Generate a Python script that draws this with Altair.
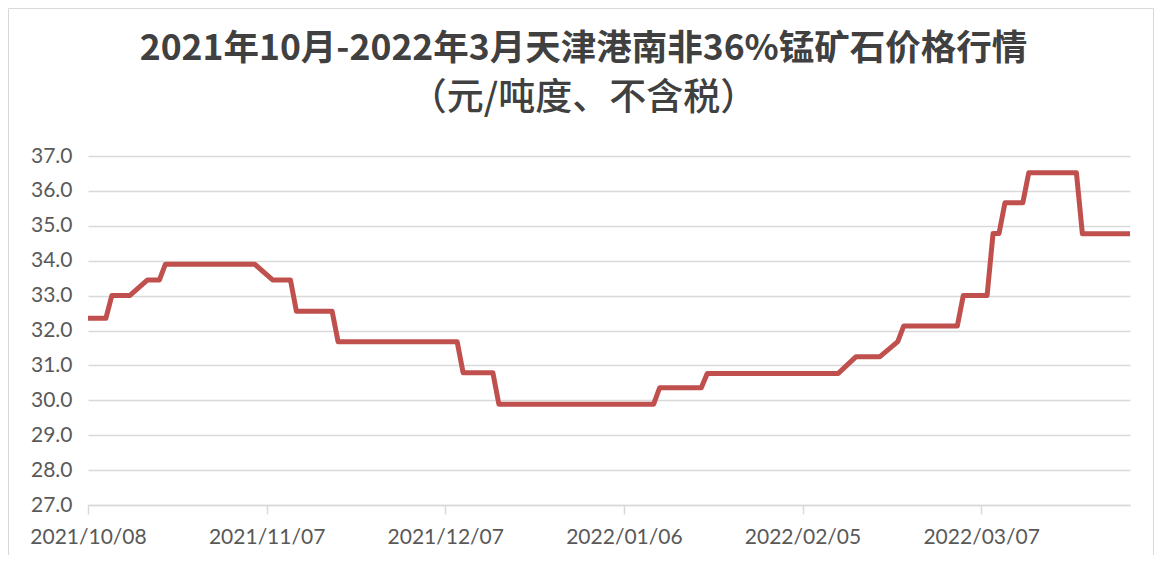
import altair as alt
import pandas as pd

# Vertices of the price line (business days where the price changes)
dates = ["2021-10-08", "2021-10-11", "2021-10-12", "2021-10-15", "2021-10-18", "2021-10-20", "2021-10-21",
         "2021-11-05", "2021-11-08", "2021-11-11", "2021-11-12", "2021-11-18", "2021-11-19",
         "2021-12-09", "2021-12-10", "2021-12-15", "2021-12-16",
         "2022-01-11", "2022-01-12", "2022-01-19", "2022-01-20",
         "2022-02-11", "2022-02-14", "2022-02-18", "2022-02-21", "2022-02-22",
         "2022-03-03", "2022-03-04", "2022-03-08", "2022-03-09", "2022-03-10", "2022-03-11",
         "2022-03-14", "2022-03-15", "2022-03-23", "2022-03-24", "2022-04-01"]
prices = [32.35, 32.35, 33.00, 33.00, 33.45, 33.45, 33.90,
          33.90, 33.45, 33.45, 32.55, 32.55, 31.68,
          31.68, 30.79, 30.79, 29.89,
          29.89, 30.36, 30.36, 30.77,
          30.77, 31.25, 31.25, 31.68, 32.13,
          32.13, 33.00, 33.00, 34.78, 34.78, 35.66,
          35.66, 36.52, 36.52, 34.77, 34.77]

x_ticks = [(2021, 10, 8), (2021, 11, 7), (2021, 12, 7), (2022, 1, 6), (2022, 2, 5), (2022, 3, 7)]
y_ticks = [27, 28, 29, 30, 31, 32, 33, 34, 35, 36, 37]

title_line1 = "2021年10月-2022年3月天津港南非36%锰矿石价格行情"
title_line2 = "（元/吨度、不含税）"

df = pd.DataFrame({"date": dates, "price": prices})
dummy = pd.DataFrame({"a": [0]})

W, H = 1042, 349
grey_txt = "#595959"
grid_c = "#d9d9d9"

def dt(t):
    return alt.DateTime(year=t[0], month=t[1], date=t[2], utc=True)

line = alt.Chart(df).mark_line(color="#c0504d", strokeWidth=5, strokeJoin="round").encode(
    x=alt.X("date:T",
            scale=alt.Scale(type="utc", domain=[dt((2021, 10, 8)), dt((2022, 4, 1))]),
            axis=alt.Axis(values=[dt(t) for t in x_ticks],
                          labelExpr="utcFormat(datum.value, '%Y/%m/%d')",
                          grid=False, domainColor=grid_c, domainWidth=1.5,
                          tickColor=grid_c, tickWidth=1.5, tickSize=9,
                          labelPadding=12, labelFontSize=21, labelFont="Lato",
                          labelColor=grey_txt, labelOverlap=False, labelFlush=False,
                          title=None)),
    y=alt.Y("price:Q",
            scale=alt.Scale(domain=[27, 37], nice=False, zero=False),
            axis=alt.Axis(values=y_ticks, format=".1f", grid=True, gridColor=grid_c,
                          gridWidth=1.5, domain=False, ticks=False, labelPadding=16,
                          labelFontSize=21, labelFont="Lato", labelColor=grey_txt,
                          title=None)),
)

border_c = "#d9d9d9"
left_b = alt.Chart(dummy).mark_rule(color=border_c, strokeWidth=1).encode(
    x=alt.value(-79.5), y=alt.value(-147.5), y2=alt.value(399))
top_b = alt.Chart(dummy).mark_rule(color=border_c, strokeWidth=1).encode(
    x=alt.value(-79.5), x2=alt.value(1065.5), y=alt.value(-147.5))
right_b = alt.Chart(dummy).mark_rule(color=border_c, strokeWidth=1).encode(
    x=alt.value(1065.5), y=alt.value(-147.5), y2=alt.value(399))

t1 = alt.Chart(dummy).mark_text(font="Noto Sans CJK SC", fontSize=35.5, fontWeight="bold",
                                color="#404040", align="center", baseline="middle").encode(
    x=alt.value(495.5), y=alt.value(-107), text=alt.value(title_line1))
t2 = alt.Chart(dummy).mark_text(font="Noto Sans CJK SC", fontSize=37, fontWeight=500,
                                color="#404040", align="center", baseline="middle").encode(
    x=alt.value(495.5), y=alt.value(-57), text=alt.value(title_line2))

chart = alt.layer(line, left_b, top_b, right_b, t1, t2).properties(
    width=W, height=H, padding=0
).configure_view(stroke=None)

chart.save("out.html", embed_options={"renderer": "svg", "actions": False})
